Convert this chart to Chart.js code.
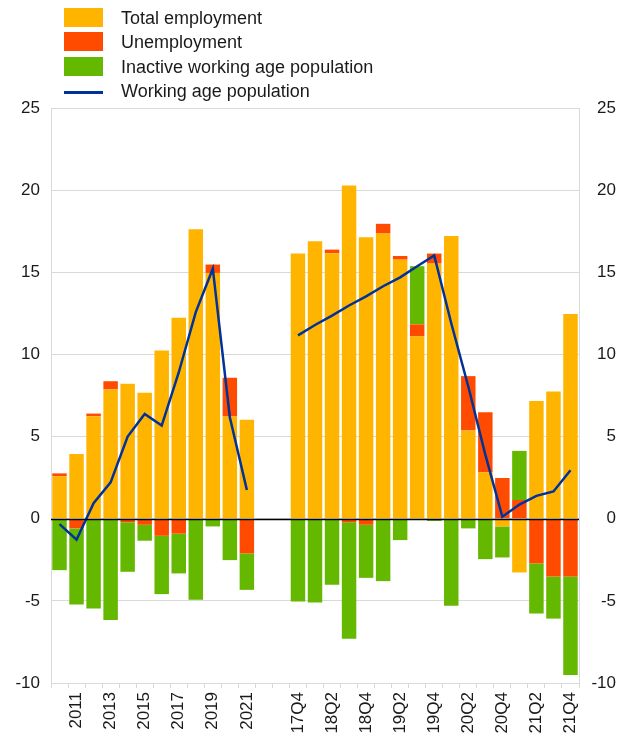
<!DOCTYPE html>
<html>
<head>
<meta charset="utf-8">
<script src="https://cdn.jsdelivr.net/npm/chart.js@4.4.1/dist/chart.umd.min.js"></script>
<style>
  body { margin: 0; background: #fff; }
  #wrap { position: relative; width: 632px; height: 738px; }
  #legend { position: absolute; left: 0; top: 0; font-family: "Liberation Sans", Arial, sans-serif; font-size: 18px; color: #1a1a1a; }
  .item { position: absolute; left: 64px; height: 24px; width: 400px; }
  .swatch { position: absolute; left: 0; width: 39px; }
  .txt { position: absolute; left: 57px; white-space: nowrap; line-height: 20px; }
</style>
</head>
<body>
<div id="wrap">
  <canvas id="myChart"></canvas>
  <div id="legend"></div>
</div>
<script>
const categories = ['2010','2011','2012','2013','2014','2015','2016','2017','2018','2019','2020','2021','','',
  '17Q4','18Q1','18Q2','18Q3','18Q4','19Q1','19Q2','19Q3','19Q4','20Q1','20Q2','20Q3','20Q4','21Q1','21Q2','21Q3','21Q4'];
const tickLabels = ['2011','2013','2015','2017','2019','2021','17Q4','18Q2','18Q4','19Q2','19Q4','20Q2','20Q4','21Q2','21Q4'];

const employment = [2.58, 3.94, 6.24, 7.87, 8.21, 7.66, 10.24, 12.24, 17.62, 14.96, 6.22, 6.02, null, null,
  16.14, 16.89, 16.16, 20.28, 17.13, 17.36, 15.77, 11.10, 15.53, 17.21, 5.37, 2.82, -0.47, -3.27, 7.16, 7.74, 12.46];
const unemployment = [0.18, -0.59, 0.16, 0.50, -0.22, -0.37, -1.04, -0.91, -0.05, 0.51, 2.36, -2.11, null, null,
  0, 0, 0.22, -0.22, -0.37, 0.59, 0.22, 0.73, 0.61, 0, 3.31, 3.66, 2.48, 1.14, -2.72, -3.52, -3.52];
const inactive = [-3.13, -4.63, -5.47, -6.16, -3.01, -0.97, -3.55, -2.42, -4.89, -0.47, -2.52, -2.22, null, null,
  -5.04, -5.10, -4.02, -7.08, -3.23, -3.80, -1.30, 3.54, -0.14, -5.30, -0.59, -2.46, -1.89, 2.99, -3.05, -2.56, -5.99];
const population = [-0.33, -1.28, 0.94, 2.21, 5.0, 6.38, 5.67, 8.9, 12.58, 15.22, 6.18, 1.75, null, null,
  11.16, 11.79, 12.36, 12.98, 13.53, 14.15, 14.69, 15.37, 16.02, 11.9, 8.05, 3.9, 0.12, 0.86, 1.39, 1.66, 2.95];

const font = { family: '"Liberation Sans", Arial, sans-serif', size: 17 };
const gridGrey = '#d9d9d9';

function barSet(label, data, color) {
  return {
    type: 'bar',
    label: label,
    data: data,
    backgroundColor: color,
    categoryPercentage: 1.0,
    barPercentage: 0.85,
    stack: 'parts',
    order: 1
  };
}

const zeroLine = {
  id: 'zeroLine',
  afterDatasetsDraw(chart) {
    const { ctx, chartArea, scales } = chart;
    const y = Math.round(scales.y.getPixelForValue(0)) + 0.5;
    ctx.save();
    ctx.strokeStyle = '#000';
    ctx.lineWidth = 1.5;
    ctx.beginPath();
    ctx.moveTo(chartArea.left, y);
    ctx.lineTo(chartArea.right, y);
    ctx.stroke();
    ctx.restore();
  }
};

const ctx = document.getElementById('myChart').getContext('2d');
const myChart = new Chart(ctx, {
  data: {
    labels: categories,
    datasets: [
      barSet('Total employment', employment, '#FFB400'),
      barSet('Unemployment', unemployment, '#FF4B00'),
      barSet('Inactive working age population', inactive, '#65B800'),
      {
        type: 'line',
        label: 'Working age population',
        data: population,
        borderColor: '#003299',
        backgroundColor: '#003299',
        borderWidth: 2.5,
        pointRadius: 0,
        tension: 0,
        spanGaps: false,
        stack: 'line',
        order: 0
      }
    ]
  },
  options: {
    responsive: true,
    maintainAspectRatio: false,
    animation: false,
    layout: { padding: { top: 108, left: 0, right: 16, bottom: 0 } },
    plugins: {
      legend: { display: false },
      tooltip: { enabled: false }
    },
    scales: {
      x: {
        stacked: true,
        offset: true,
        grid: { drawOnChartArea: false, drawTicks: true, tickLength: 5, color: gridGrey },
        border: { display: true, color: gridGrey },
        ticks: {
          autoSkip: false,
          minRotation: 90,
          maxRotation: 90,
          padding: 4,
          color: '#1a1a1a',
          font: font,
          callback: function (v) {
            const l = this.getLabelForValue(v);
            return tickLabels.includes(l) ? l : '';
          }
        },
        afterFit: s => { s.height = 55; }
      },
      y: {
        stacked: true,
        position: 'left',
        min: -10,
        max: 25,
        ticks: { stepSize: 5, padding: 11, color: '#1a1a1a', font: font },
        grid: { color: gridGrey, drawTicks: false },
        border: { display: true, color: gridGrey },
        afterFit: s => { s.width = 51; }
      },
      y2: {
        position: 'right',
        min: -10,
        max: 25,
        ticks: { stepSize: 5, crossAlign: 'far', color: '#1a1a1a', font: font },
        grid: { display: false, drawTicks: false },
        border: { display: true, color: gridGrey },
        afterFit: s => { s.width = 37; }
      }
    }
  },
  plugins: [zeroLine]
});

// html legend built from the chart's datasets
const legend = document.getElementById('legend');
const tops = [8, 32, 57, 81];
myChart.data.datasets.forEach((ds, i) => {
  const item = document.createElement('div');
  item.className = 'item';
  item.style.top = tops[i] + 'px';
  const sw = document.createElement('div');
  sw.className = 'swatch';
  if (ds.type === 'line') {
    sw.style.top = '10px';
    sw.style.height = '3px';
    sw.style.background = ds.borderColor;
  } else {
    sw.style.top = '0px';
    sw.style.height = '19px';
    sw.style.background = ds.backgroundColor;
  }
  const t = document.createElement('div');
  t.className = 'txt';
  t.style.top = '0px';
  t.textContent = ds.label;
  item.appendChild(sw);
  item.appendChild(t);
  legend.appendChild(item);
});
</script>
</body>
</html>
